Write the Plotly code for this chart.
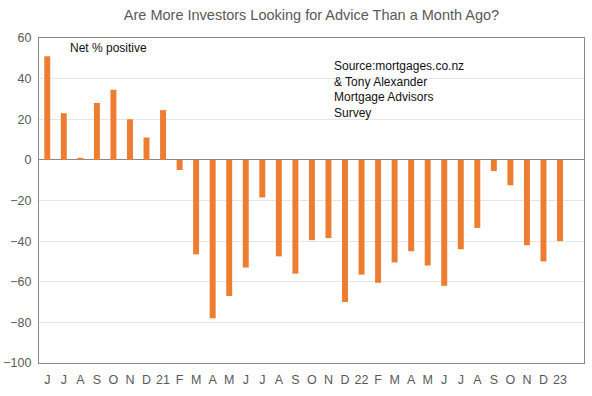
import plotly.graph_objects as go

months = ["J","J","A","S","O","N","D","21","F","M","A","M","J","J","A","S",
          "O","N","D","22","F","M","A","M","J","J","A","S","O","N","D","23"]
values = [51, 23, 1, 28, 34.5, 20, 11, 24.5, -5, -46.5, -78, -67, -53, -18.5, -47.5, -56,
          -39.5, -38.5, -70, -56.5, -60.5, -50.5, -45, -52, -62, -44, -33.5, -5.5, -12.5, -42, -50, -40]
yticks = [60, 40, 20, 0, -20, -40, -60, -80, -100]

x = list(range(len(months)))

fig = go.Figure(go.Bar(x=x, y=values, marker=dict(color="#ED7D31", line_width=0), width=0.36,
                       hoverinfo="skip"))

fig.update_layout(
    width=592, height=396,
    margin=dict(l=39, r=8, t=38, b=33, autoexpand=False),
    paper_bgcolor="white", plot_bgcolor="white",
    font=dict(family="Liberation Sans, Arial, sans-serif", color="#595959", size=12),
    title=dict(text="Are More Investors Looking for Advice Than a Month Ago?",
               x=0.5, xref="paper", xanchor="center", y=0.963, yanchor="middle",
               font=dict(size=14.5, color="#595959")),
    showlegend=False,
)
fig.update_xaxes(
    tickmode="array", tickvals=x, ticktext=months, range=[-0.5, len(months) + 0.45],
    showline=True, linecolor="#898989", linewidth=1.3, mirror=True, ticks="",
    showgrid=False, tickfont=dict(size=12.5, color="#595959"), automargin=False,
    ticklabelstandoff=5,
)
fig.update_yaxes(
    range=[-100, 60], tickvals=yticks, showgrid=True, gridcolor="#E6E6E6",
    showline=True, linecolor="#898989", linewidth=1.3, mirror=True, ticks="",
    zeroline=True, zerolinecolor="#898989", zerolinewidth=1.3,
    tickfont=dict(size=12.5, color="#595959"), automargin=False,
    ticklabelstandoff=4,
)
fig.add_annotation(text="Net % positive", xref="paper", yref="paper", x=0.054, y=0.997,
                   xanchor="left", yanchor="top", showarrow=False,
                   font=dict(size=12, color="#111111"))
fig.add_annotation(text="Source:mortgages.co.nz<br>& Tony Alexander<br>Mortgage Advisors<br>Survey",
                   xref="paper", yref="paper", x=0.538, y=0.943, xanchor="left", yanchor="top",
                   align="left", showarrow=False, font=dict(size=12, color="#111111"))
fig.write_html("out.html", config={"displayModeBar": False},
               post_script="document.body.style.margin='0';")
